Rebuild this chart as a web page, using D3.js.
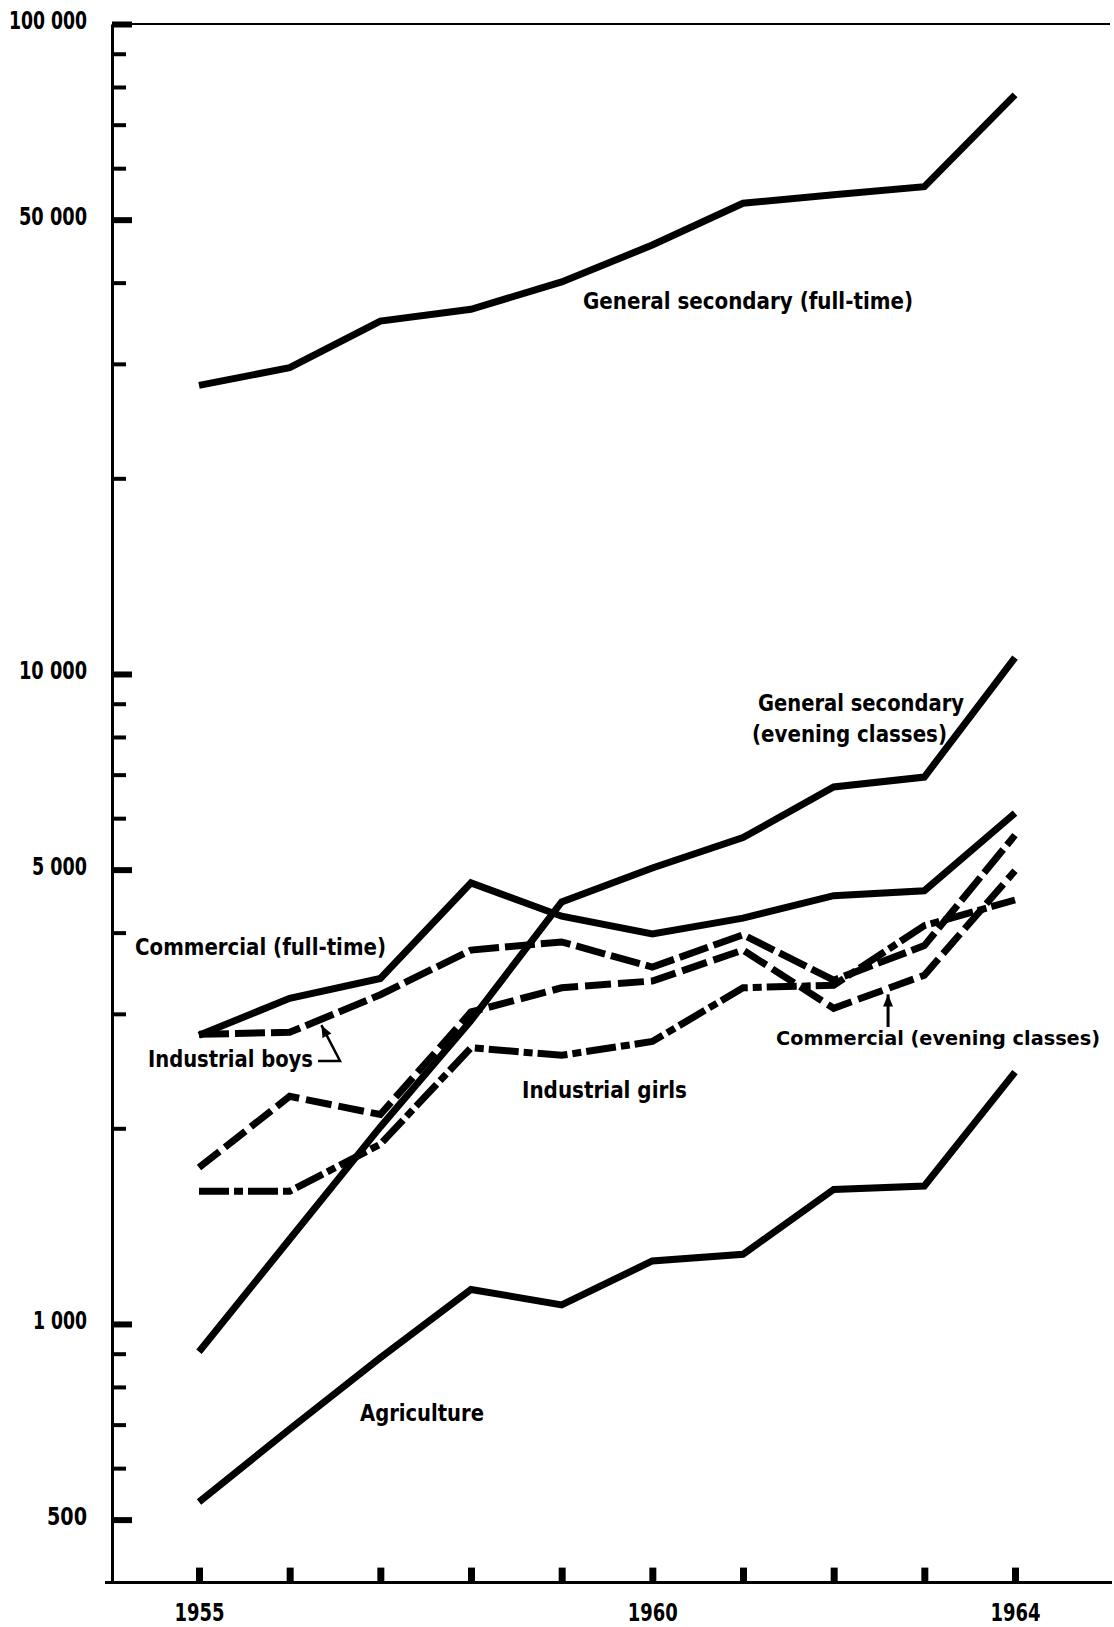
<!DOCTYPE html>
<html>
<head>
<meta charset="utf-8">
<script src="https://cdn.jsdelivr.net/npm/d3@7"></script>
<style>
  html, body { margin: 0; padding: 0; background: #fff; }
  svg { display: block; }
  text { font-family: "DejaVu Sans Condensed", "Liberation Sans Narrow", "Roboto Condensed", "DejaVu Sans", sans-serif; font-stretch: condensed; font-weight: bold; fill: #000; }
</style>
</head>
<body>
<svg id="chart" width="1114" height="1627"></svg>
<script>
// ---------------- DATA ----------------
const years = [1955, 1956, 1957, 1958, 1959, 1960, 1961, 1962, 1963, 1964];

const generalSecondaryFullTime = [27800, 29600, 34900, 36400, 40100, 45700, 53000, 54600, 56200, 77800];
const generalSecondaryEvening  = [906, 1350, 2010, 2930, 4460, 5030, 5600, 6700, 6940, 10600];
const commercialFullTime       = [2780, 3170, 3400, 4770, 4240, 3980, 4210, 4560, 4640, 6110];
const industrialBoys           = [2790, 2810, 3210, 3760, 3870, 3540, 3970, 3380, 3820, 5650];
const commercialEvening        = [1740, 2240, 2100, 3020, 3290, 3370, 3760, 3060, 3440, 4980];
const industrialGirls          = [1600, 1600, 1890, 2660, 2590, 2720, 3290, 3320, 4100, 4490];
const agriculture              = [532, 689, 887, 1130, 1070, 1250, 1280, 1610, 1630, 2440];

const majorTickValues = [500, 1000, 5000, 10000, 50000, 100000];
const majorTickLabels = ["500", "1 000", "5 000", "10 000", "50 000", "100 000"];
const minorTickValues = [600, 700, 800, 900, 2000, 3000, 4000, 6000, 7000, 8000, 9000,
                         20000, 30000, 40000, 60000, 70000, 80000, 90000];
const xLabelYears = [1955, 1960, 1964];

// ---------------- CHART ----------------
const svg = d3.select("#chart");
svg.append("rect").attr("width", 1114).attr("height", 1627).attr("fill", "#fff");

const x = d3.scaleLinear().domain([1955, 1964]).range([199, 1015]);
const y = d3.scaleLog().domain([400, 100000]).range([1582.6, 24]);

const axisX = 112;

// minor y ticks
const minorAxis = d3.axisLeft(y).tickValues(minorTickValues).tickFormat("")
  .tickSizeInner(-14).tickSizeOuter(0);
const gMinor = svg.append("g").attr("transform", `translate(${axisX},0)`).call(minorAxis);
gMinor.select(".domain").remove();
gMinor.selectAll(".tick line").attr("stroke", "#000").attr("stroke-width", 4);

// major y ticks + labels
const labelWidths = {"500": 40, "1 000": 54, "5 000": 55, "10 000": 68, "50 000": 68, "100 000": 78};
const majorAxis = d3.axisLeft(y).tickValues(majorTickValues)
  .tickFormat((d, i) => majorTickLabels[i])
  .tickSizeInner(-20).tickSizeOuter(0).tickPadding(25);
const gMajor = svg.append("g").attr("transform", `translate(${axisX},0)`).call(majorAxis);
gMajor.select(".domain").attr("stroke", "#000").attr("stroke-width", 3);
gMajor.selectAll(".tick line").attr("stroke", "#000").attr("stroke-width", 6);
gMajor.selectAll(".tick text")
  .attr("font-size", 24).attr("font-family", null).attr("dy", "0.2em")
  .attr("textLength", function() { return labelWidths[this.textContent]; })
  .attr("lengthAdjust", "spacingAndGlyphs");

// x axis
const xAxis = d3.axisBottom(x).tickValues(years)
  .tickFormat(d => xLabelYears.includes(d) ? String(d) : "")
  .tickSizeInner(-15).tickSizeOuter(0).tickPadding(21);
const gX = svg.append("g").attr("transform", `translate(0,${y(400)})`).call(xAxis);
gX.select(".domain").remove();
gX.selectAll(".tick line").attr("stroke", "#000").attr("stroke-width", 7);
gX.selectAll(".tick text").attr("font-size", 24).attr("font-family", null)
  .filter(function() { return this.textContent !== ""; })
  .attr("textLength", 50).attr("lengthAdjust", "spacingAndGlyphs");

// frame lines: baseline and top line
svg.append("line").attr("x1", 105).attr("x2", 1112).attr("y1", y(400)).attr("y2", y(400))
  .attr("stroke", "#000").attr("stroke-width", 3);
svg.append("line").attr("x1", axisX).attr("x2", 1110).attr("y1", y(100000)).attr("y2", y(100000))
  .attr("stroke", "#000").attr("stroke-width", 2);

// series
const series = [
  {values: generalSecondaryFullTime, dash: null},
  {values: generalSecondaryEvening, dash: null},
  {values: commercialFullTime, dash: null},
  {values: agriculture, dash: null},
  {values: industrialBoys, dash: "30,6"},
  {values: commercialEvening, dash: "26,7"},
  {values: industrialGirls, dash: "30,5,9,5"}
];
const line = d3.line().x(d => x(d[0])).y(d => y(d[1]));
series.forEach(s => {
  svg.append("path")
    .attr("d", line(years.map((yr, i) => [yr, s.values[i]])))
    .attr("fill", "none").attr("stroke", "#000").attr("stroke-width", 7)
    .attr("stroke-linejoin", "miter").attr("stroke-miterlimit", 3)
    .attr("stroke-dasharray", s.dash);
});

// labels
function label(txt, lx, ly, w, anchor, size) {
  svg.append("text").attr("x", lx).attr("y", ly).attr("font-size", size || 23)
    .attr("text-anchor", anchor || "start")
    .attr("textLength", w).attr("lengthAdjust", "spacingAndGlyphs").text(txt);
}
label("General secondary (full-time)", 583, 309, 330);
label("General secondary", 758, 711, 206);
label("(evening classes)", 752, 742, 195);
label("Commercial (full-time)", 135, 955, 251);
label("Industrial boys", 148, 1067, 165);
label("Industrial girls", 522, 1098, 165);
label("Commercial (evening classes)", 1100, 1045, 324, "end", 20);
label("Agriculture", 360, 1421, 124);

// annotation arrows
function interp(values, t) {
  const i = Math.floor(t - 1955), f = (t - 1955) - i;
  const a = Math.log10(values[i]), b = Math.log10(values[i + 1]);
  return Math.pow(10, a + (b - a) * f);
}
function arrowHead(tx, ty, angle) {
  const len = 12, wid = 5;
  const ca = Math.cos(angle), sa = Math.sin(angle);
  const p = [[tx, ty],
    [tx - len * ca - wid * sa, ty - len * sa + wid * ca],
    [tx - len * ca + wid * sa, ty - len * sa - wid * ca]];
  svg.append("path").attr("d", "M" + p.map(q => q.join(",")).join("L") + "Z").attr("fill", "#000");
}
// Industrial boys arrow
{
  const tx = x(1956.35), ty = y(interp(industrialBoys, 1956.35)) + 6;
  const p = [[318, 1061], [340, 1061], [tx, ty]];
  svg.append("path").attr("d", "M" + p.map(q => q.join(",")).join("L"))
    .attr("fill", "none").attr("stroke", "#000").attr("stroke-width", 2.5);
  arrowHead(tx, ty, Math.atan2(ty - 1061, tx - 340));
}
// Commercial (evening classes) arrow
{
  const tx = x(1962.6), ty = y(interp(commercialEvening, 1962.6)) + 6;
  svg.append("line").attr("x1", tx).attr("x2", tx).attr("y1", 1027).attr("y2", ty)
    .attr("stroke", "#000").attr("stroke-width", 3);
  arrowHead(tx, ty, -Math.PI / 2);
}
</script>
</body>
</html>
